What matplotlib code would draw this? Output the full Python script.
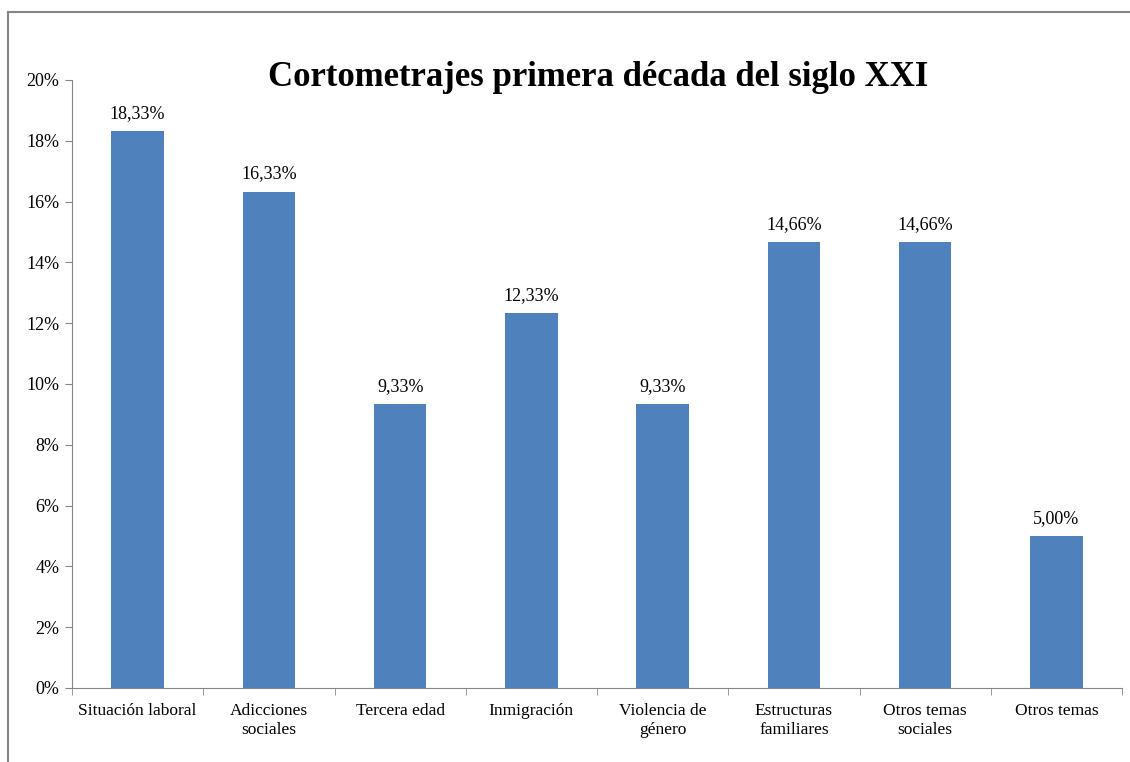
import matplotlib
matplotlib.use("Agg")
import matplotlib.pyplot as plt
from matplotlib.lines import Line2D
from matplotlib.ticker import FuncFormatter

categories = ["Situación laboral", "Adicciones\nsociales", "Tercera edad", "Inmigración",
              "Violencia de\ngénero", "Estructuras\nfamiliares", "Otros temas\nsociales",
              "Otros temas"]
values = [18.33, 16.33, 9.33, 12.33, 9.33, 14.66, 14.66, 5.00]
labels = ["18,33%", "16,33%", "9,33%", "12,33%", "9,33%", "14,66%", "14,66%", "5,00%"]

plt.rcParams["font.family"] = ["Liberation Serif", "DejaVu Serif"]
axis_color = "#868686"

fig = plt.figure(figsize=(11.3, 7.62), dpi=100)
ax = fig.add_axes([72 / 1130, 1 - 688 / 762, 1050 / 1130, 608 / 762])

x = range(len(categories))
ax.bar(x, values, width=0.4, color="#4F81BD")
for xi, v, lab in zip(x, values, labels):
    ax.text(xi, v + 0.3, lab, ha="center", va="bottom", fontsize=13)

ax.set_xlim(-0.5, len(categories) - 0.5)
ax.set_ylim(0, 20)
ax.set_yticks(range(0, 21, 2))
ax.yaxis.set_major_formatter(FuncFormatter(lambda v, p: f"{v:.0f}%"))
ax.set_xticks(list(x))
ax.set_xticklabels(categories, fontsize=12.5, linespacing=1.2)
ax.set_xticks([i - 0.5 for i in range(len(categories) + 1)], minor=True)
ax.tick_params(axis="x", which="major", length=0, pad=11)
ax.tick_params(axis="x", which="minor", length=5, color=axis_color)
ax.tick_params(axis="y", length=5, color=axis_color, labelsize=13, pad=4)

for s in ["top", "right"]:
    ax.spines[s].set_visible(False)
for s in ["left", "bottom"]:
    ax.spines[s].set_color(axis_color)

fig.text(598 / 1130, 1 - 78 / 762, "Cortometrajes primera década del siglo XXI",
         ha="center", va="center", fontsize=25, fontweight="bold")

# outer chart border (top and left edges visible)
fig.add_artist(Line2D([8 / 1130, 8 / 1130], [0, 1 - 12 / 762], transform=fig.transFigure,
                      color=axis_color, lw=1.5))
fig.add_artist(Line2D([8 / 1130, 1], [1 - 12 / 762, 1 - 12 / 762], transform=fig.transFigure,
                      color=axis_color, lw=1.5))

fig.savefig("out.png", dpi=100)
